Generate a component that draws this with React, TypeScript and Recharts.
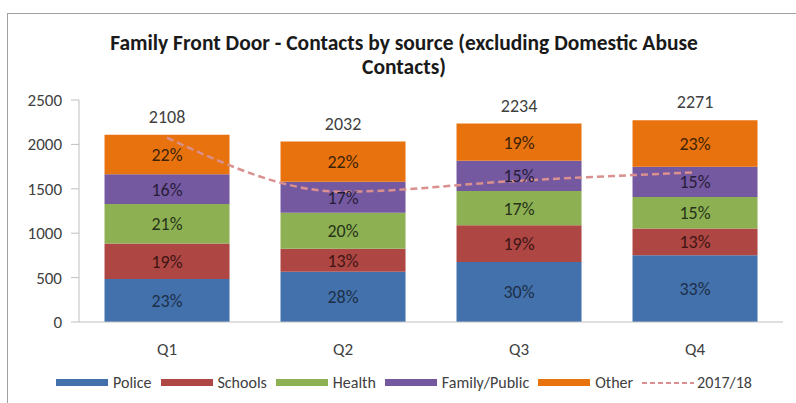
import React from "react";
import {
  ComposedChart,
  Bar,
  Line,
  XAxis,
  YAxis,
  LabelList,
} from "recharts";

const quarters = ["Q1", "Q2", "Q3", "Q4"];
const police = [485, 565, 675, 752];
const schools = [400, 260, 415, 300];
const health = [443, 405, 385, 355];
const familyPublic = [337, 350, 340, 340];
const other = [443, 452, 419, 524];
const totals = [2108, 2032, 2234, 2271];
const lastYear = [2075, 1467, 1591, 1686];

const policePct = ["23%", "28%", "30%", "33%"];
const schoolsPct = ["19%", "13%", "19%", "13%"];
const healthPct = ["21%", "20%", "17%", "15%"];
const familyPct = ["16%", "17%", "15%", "15%"];
const otherPct = ["22%", "22%", "19%", "23%"];

const yTicks = [0, 500, 1000, 1500, 2000, 2500];

const FONT = "Carlito, 'Liberation Sans Narrow', Lato, sans-serif";

const data = quarters.map((q, i) => ({
  name: q,
  police: police[i],
  schools: schools[i],
  health: health[i],
  familyPublic: familyPublic[i],
  other: other[i],
  total: totals[i],
  lastYear: lastYear[i],
  policePct: policePct[i],
  schoolsPct: schoolsPct[i],
  healthPct: healthPct[i],
  familyPct: familyPct[i],
  otherPct: otherPct[i],
}));

const series = [
  { key: "police", pct: "policePct", name: "Police", color: "#4271ab", text: "#1e2f48" },
  { key: "schools", pct: "schoolsPct", name: "Schools", color: "#ae4643", text: "#3e1514" },
  { key: "health", pct: "healthPct", name: "Health", color: "#8db152", text: "#26331a" },
  { key: "familyPublic", pct: "familyPct", name: "Family/Public", color: "#7559a0", text: "#261c38" },
  { key: "other", pct: "otherPct", name: "Other", color: "#e8720e", text: "#3c2308" },
];

// total sits on top of the last stacked segment
const TotalLabel = (props: any) => {
  const { x, y, width, index } = props;
  return (
    <text
      x={x + width / 2}
      y={y - 12}
      textAnchor="middle"
      fill="#404040"
      fontSize={18}
      fontFamily={FONT}
    >
      {totals[index]}
    </text>
  );
};

function LegendRow() {
  return (
    <div
      style={{
        position: "absolute",
        top: 373,
        left: 0,
        width: 796,
        display: "flex",
        justifyContent: "center",
        alignItems: "center",
        fontFamily: FONT,
        fontSize: 16,
        color: "#404040",
        paddingLeft: 6,
      }}
    >
      {series.map((s) => (
        <span key={s.key} style={{ display: "flex", alignItems: "center", marginRight: 9 }}>
          <span style={{ width: 52, height: 7, background: s.color, marginRight: 5, display: "inline-block" }} />
          {s.name}
        </span>
      ))}
      <span style={{ display: "flex", alignItems: "center" }}>
        <svg width={52} height={8} style={{ marginRight: 3 }}>
          <line x1={0} y1={4} x2={52} y2={4} stroke="#d9908e" strokeWidth={2} strokeDasharray="5 3" />
        </svg>
        2017/18
      </span>
    </div>
  );
}

export default function App() {
  return (
    <div style={{ position: "absolute", left: 0, top: 0, width: 796, height: 403, background: "#fff", overflow: "hidden" }}>
      <div
        style={{
          position: "absolute",
          left: 7,
          top: 13,
          width: 800,
          height: 400,
          borderLeft: "1px solid #a0a0a0",
          borderTop: "1px solid #a0a0a0",
        }}
      />
      <div
        style={{
          position: "absolute",
          top: 31,
          left: 6,
          width: 796,
          textAlign: "center",
          fontFamily: FONT,
          fontWeight: "bold",
          fontSize: 21.5,
          lineHeight: "24px",
          color: "#1a1a1a",
        }}
      >
        Family Front Door - Contacts by source (excluding Domestic Abuse
        <br />
        Contacts)
      </div>
      <div style={{ position: "absolute", left: 0, top: 0 }}>
        <ComposedChart
          width={796}
          height={403}
          data={data}
          margin={{ top: 100, right: 13, bottom: 51, left: 0 }}
          barCategoryGap="14.5%"
        >
          <XAxis
            dataKey="name"
            height={30}
            stroke="#bfbfbf"
            tickLine={false}
            tick={{ fill: "#404040", fontSize: 17, fontFamily: FONT }}
            tickMargin={15}
          />
          <YAxis
            width={79}
            domain={[0, 2500]}
            ticks={yTicks}
            stroke="#bfbfbf"
            tickSize={8}
            tick={{ fill: "#404040", fontSize: 17, fontFamily: FONT }}
            tickMargin={9}
          />
          {series.map((s, i) => (
            <Bar
              key={s.key}
              dataKey={s.key}
              name={s.name}
              stackId="a"
              fill={s.color}
              isAnimationActive={false}
            >
              <LabelList
                dataKey={s.pct}
                position="center"
                fill={s.text}
                fontSize={18}
                fontFamily={FONT}
              />
              {i === series.length - 1 && <LabelList dataKey="total" content={TotalLabel} />}
            </Bar>
          ))}
          <Line
            type="monotone"
            dataKey="lastYear"
            name="2017/18"
            stroke="#d9908e"
            strokeWidth={2.5}
            strokeDasharray="7 4"
            dot={false}
            isAnimationActive={false}
          />
        </ComposedChart>
      </div>
      <LegendRow />
    </div>
  );
}
